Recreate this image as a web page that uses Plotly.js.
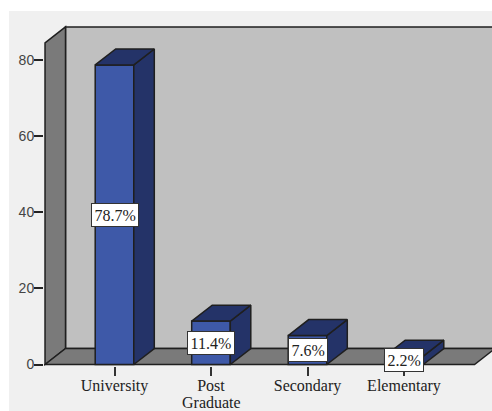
<!DOCTYPE html>
<html><head><meta charset="utf-8">
<script src="https://cdn.plot.ly/plotly-3.0.1.min.js"></script>
<style>html,body{margin:0;padding:0;background:#fff}#c{width:492px;height:411px}</style>
</head><body><div id="c"></div>
<script>
const categories = ["University", "Post", "Secondary", "Elementary"];
const categorySecondLines = ["", "Graduate", "", ""];
const values = [78.7, 11.4, 7.6, 2.2];
const valueLabels = ["78.7%", "11.4%", "7.6%", "2.2%"];
const yTicks = [0, 20, 40, 60, 80];

const barWidth = 0.4, depthX = 0.2124, depthY = 4.2;
const xLeft = -0.72, xFloorEnd = 3.731, yTop = 84.5;
const ink = "#1f1f1f";
const serif = "'Liberation Serif', serif";
const idx = categories.map((_, i) => i);

function poly(xs, ys, fill) {
  return {type:"path", xref:"x", yref:"y", layer:"below", fillcolor:fill,
    line:{color:ink, width:1.5},
    path:"M" + xs.map((x,i)=>x+","+ys[i]).join("L") + "Z"};
}
const shapes = [
  {type:"rect", xref:"paper", yref:"paper", layer:"below",
   x0:(9-44)/448, x1:1, y0:-45/341, y1:(366-11)/341, fillcolor:"#f0f0f0", line:{width:0}},
  poly([xLeft+depthX, 4.5, 4.5, xLeft+depthX], [depthY, depthY, yTop+depthY, yTop+depthY], "#c0c0c0"),
  poly([xLeft, xLeft+depthX, xLeft+depthX, xLeft], [0, depthY, yTop+depthY, yTop], "#7a7a7a"),
  poly([xLeft, xLeft+depthX, xFloorEnd+depthX, xFloorEnd], [0, depthY, depthY, 0], "#7a7a7a")
];

const traces = [{
  type:"bar", x:idx, y:values, width:barWidth, hoverinfo:"skip",
  marker:{color:"#3e59a8", line:{color:ink, width:1.5}}
}];
idx.forEach(i => {
  const l = i - barWidth/2, r = i + barWidth/2, v = values[i];
  const face = (xs, ys) => traces.push({type:"scatter", mode:"lines", x:xs, y:ys, fill:"toself",
    fillcolor:"#243368", line:{color:ink, width:1.5}, hoverinfo:"skip"});
  face([r, r+depthX, r+depthX, r, r], [0, depthY, v+depthY, v, 0]);
  face([l, l+depthX, r+depthX, r, l], [v, v+depthY, v+depthY, v, v]);
});

const annotations = idx.map(i => ({
  x:i, y:values[i]/2, xref:"x", yref:"y", text:valueLabels[i], showarrow:false,
  font:{family:serif, size:16, color:"#222"}, bgcolor:"#fff",
  bordercolor:"#333", borderwidth:1, borderpad:2.5, xanchor:"center", yanchor:"middle"
}));
idx.filter(i => categorySecondLines[i]).forEach(i => annotations.push({
  x:i, y:-36.5/341, xref:"x", yref:"paper", text:categorySecondLines[i], showarrow:false,
  font:{family:serif, size:16, color:"#222"}, xanchor:"center", yanchor:"middle",
  borderpad:0, borderwidth:0
}));

Plotly.newPlot("c", traces, {
  width:492, height:411, showlegend:false, bargap:0,
  paper_bgcolor:"#fff", plot_bgcolor:"rgba(0,0,0,0)",
  margin:{l:44, r:0, t:25, b:45, pad:0},
  shapes, annotations,
  xaxis:{type:"linear", range:[-0.7306, 3.912], tickmode:"array", tickvals:idx, ticktext:categories,
    ticks:"outside", ticklen:9, tickwidth:2, tickcolor:"#333", showgrid:false, zeroline:false,
    showline:false, tickangle:0, ticklabelstandoff:-4, tickfont:{family:serif, size:16, color:"#222"}, automargin:false},
  yaxis:{range:[-0.394, 89.2], tickmode:"array", tickvals:yTicks,
    ticks:"outside", ticklen:9, tickwidth:2, tickcolor:"#222", showgrid:false, zeroline:false,
    showline:false, ticklabelstandoff:-3, tickfont:{family:"'Liberation Sans', sans-serif", size:14, color:"#444"}, automargin:false}
}, {displayModeBar:false, staticPlot:true});
</script></body></html>
